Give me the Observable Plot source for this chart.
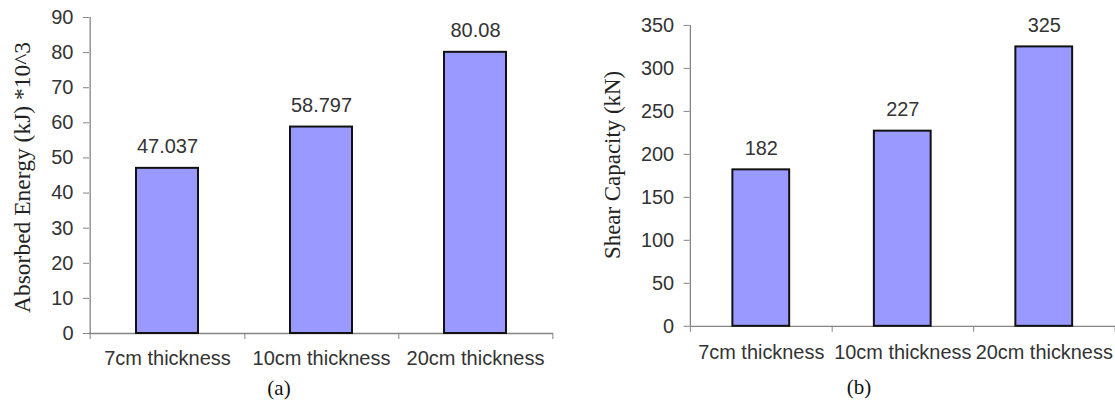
<!DOCTYPE html>
<html>
<head>
<meta charset="utf-8">
<script src="https://cdn.jsdelivr.net/npm/d3@7"></script>
<script src="https://cdn.jsdelivr.net/npm/@observablehq/plot@0.6"></script>
<style>
  html, body { margin: 0; padding: 0; background: #fff; overflow: hidden; }
  #wrap { position: relative; width: 1115px; height: 403px; overflow: hidden; background: #fff; }
  .panel { position: absolute; top: 0; }
  .cap { position: absolute; font-family: "Liberation Serif", "Times New Roman", serif; font-size: 21px; line-height: 22px; color: #111; text-align: center; width: 60px; }
</style>
</head>
<body>
<div id="wrap">
  <div id="pa" class="panel" style="left:0px"></div>
  <div id="pb" class="panel" style="left:560px"></div>
  <div class="cap" style="left:249px; top:377px">(a)</div>
  <div class="cap" style="left:829px; top:376px">(b)</div>
</div>
<script>
const categories = ["7cm thickness", "10cm thickness", "20cm thickness"];
const energyValues = [47.037, 58.797, 80.08];
const shearValues = [182, 227, 325];
const energyTicks = [0, 10, 20, 30, 40, 50, 60, 70, 80, 90];
const shearTicks = [0, 50, 100, 150, 200, 250, 300, 350];
const energyTitle = "Absorbed Energy (kJ) *10^3";
const shearTitle = "Shear Capacity (kN)";

const sans = "'Liberation Sans', Arial, sans-serif";
const serif = "'Liberation Serif', 'Times New Roman', serif";
const axisGray = "#858585";
const textCol = "#333333";

function panel({values, ticks, yMax, title, width, height, mt, mb, ml, mr, labelPad, titleDx, titleDy, titleSize}) {
  const data = categories.map((c, i) => ({cat: c, value: values[i]}));
  const step = (width - ml - mr) / categories.length;
  return Plot.plot({
    width, height,
    marginTop: mt, marginBottom: mb, marginLeft: ml, marginRight: mr,
    style: {fontFamily: sans, background: "white", overflow: "visible"},
    x: {type: "band", domain: categories, paddingInner: 0.6, paddingOuter: 0.3, label: null},
    y: {domain: [0, yMax], label: null},
    marks: [
      // y axis line (left edge of the first band)
      Plot.ruleX([categories[0]], {x: d => d, y1: 0, y2: yMax, dx: -step / 2, stroke: axisGray, strokeWidth: 1.3}),
      // y outward ticks
      Plot.axisY({ticks, tickSize: 6, tickFormat: () => "", stroke: axisGray, label: null}),
      // y tick labels
      Plot.axisY({ticks, tickSize: 0, tickPadding: 16, fontSize: 20, fill: textCol, label: null}),
      // x axis line
      Plot.ruleY([0], {stroke: axisGray, strokeWidth: 1.3}),
      // category boundary ticks (right edge of each band, plus left edge)
      Plot.axisX({tickSize: 6, tickFormat: () => "", stroke: axisGray, dx: step / 2, label: null}),
      Plot.axisX({ticks: [categories[0]], tickSize: 6, tickFormat: () => "", stroke: axisGray, dx: -step / 2, label: null}),
      // category labels
      Plot.axisX({tickSize: 0, tickPadding: labelPad, fontSize: 20, fill: textCol, label: null}),
      // bars
      Plot.barY(data, {x: "cat", y: "value", fill: "#9999ff", stroke: "#111111", strokeWidth: 2}),
      // value labels
      Plot.text(data, {x: "cat", y: "value", text: d => String(d.value), lineAnchor: "bottom", dy: -15, fontSize: 20, fill: textCol}),
      // y title
      Plot.text([title], {frameAnchor: "left", textAnchor: "middle", dx: titleDx, dy: titleDy, rotate: -90, fontFamily: serif, fontSize: titleSize, fill: "#222"})
    ]
  });
}

document.getElementById("pa").append(panel({
  values: energyValues, ticks: energyTicks, yMax: 90, title: energyTitle,
  width: 560, height: 370, mt: 17, mb: 37, ml: 89, mr: 7, labelPad: 17, titleDx: -67, titleDy: 2, titleSize: 23.5
}));
document.getElementById("pb").append(panel({
  values: shearValues, ticks: shearTicks, yMax: 350, title: shearTitle,
  width: 557, height: 370, mt: 25, mb: 43, ml: 130, mr: 0, labelPad: 19, titleDx: -78, titleDy: -11, titleSize: 23
}));
</script>
</body>
</html>
